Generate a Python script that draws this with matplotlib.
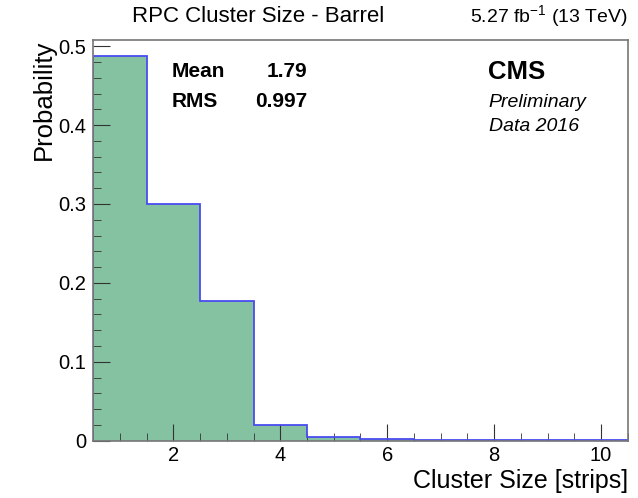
import matplotlib.pyplot as plt
import numpy as np
from matplotlib.ticker import MultipleLocator

plt.rcParams['font.family'] = ['Liberation Sans', 'DejaVu Sans']
plt.rcParams['mathtext.fontset'] = 'custom'
plt.rcParams['mathtext.rm'] = 'Liberation Sans'

# cluster size bins (strips) and normalised probability per bin
cluster_size = [1, 2, 3, 4, 5, 6, 7, 8, 9, 10]
probability = [0.487, 0.300, 0.177, 0.020, 0.005, 0.002, 0.001, 0.001, 0.0005, 0.0005]
mean_val = "1.79"
rms_val = "0.997"

edges = np.arange(0.5, 11.0, 1.0)

fig = plt.figure(figsize=(6.38, 4.98), dpi=100)
ax = fig.add_axes([0.146, 0.115, 0.838, 0.805])

ax.hist(cluster_size, bins=edges, weights=probability, histtype='stepfilled',
        color='#84c2a2', edgecolor='none')
ax.hist(cluster_size, bins=edges, weights=probability, histtype='step',
        color='#4a4cf0', linewidth=1.3)

ax.set_xlim(0.5, 10.5)
ax.set_ylim(0, 0.508)
ax.xaxis.set_major_locator(MultipleLocator(2))
ax.xaxis.set_minor_locator(MultipleLocator(0.5))
ax.yaxis.set_minor_locator(MultipleLocator(0.02))
ax.set_yticks([0, 0.1, 0.2, 0.3, 0.4, 0.5])
ax.set_yticklabels(['0', '0.1', '0.2', '0.3', '0.4', '0.5'])
ax.tick_params(which='both', direction='in', top=False, right=False,
               labelsize=14.5, color='#333333', pad=5)
ax.tick_params(axis='x', pad=4)
ax.tick_params(which='major', length=12)
ax.tick_params(which='minor', length=6)
for s in ax.spines.values():
    s.set_color('#777777')
    s.set_linewidth(1.2)

ax.set_xlabel('Cluster Size [strips]', fontsize=18, loc='right', labelpad=3)
ax.set_ylabel('Probability', fontsize=18.5, loc='top', labelpad=2)

fig.text(0.405, 0.966, 'RPC Cluster Size - Barrel', ha='center', va='center', fontsize=16)
fig.text(0.984, 0.966, r'5.27 fb$^{-1}$ (13 TeV)', ha='right', va='center', fontsize=14)

ax.text(0.147, 0.92, 'Mean', transform=ax.transAxes, fontsize=15, fontweight='bold', va='center')
ax.text(0.40, 0.92, mean_val, transform=ax.transAxes, fontsize=15, fontweight='bold', va='center', ha='right')
ax.text(0.147, 0.845, 'RMS', transform=ax.transAxes, fontsize=15, fontweight='bold', va='center')
ax.text(0.40, 0.845, rms_val, transform=ax.transAxes, fontsize=15, fontweight='bold', va='center', ha='right')

ax.text(0.738, 0.92, 'CMS', transform=ax.transAxes, fontsize=18.5, fontweight='bold', va='center')
ax.text(0.740, 0.843, 'Preliminary', transform=ax.transAxes, fontsize=14, style='italic', va='center')
ax.text(0.740, 0.785, 'Data 2016', transform=ax.transAxes, fontsize=14, style='italic', va='center')

fig.savefig('out.png', dpi=100)
